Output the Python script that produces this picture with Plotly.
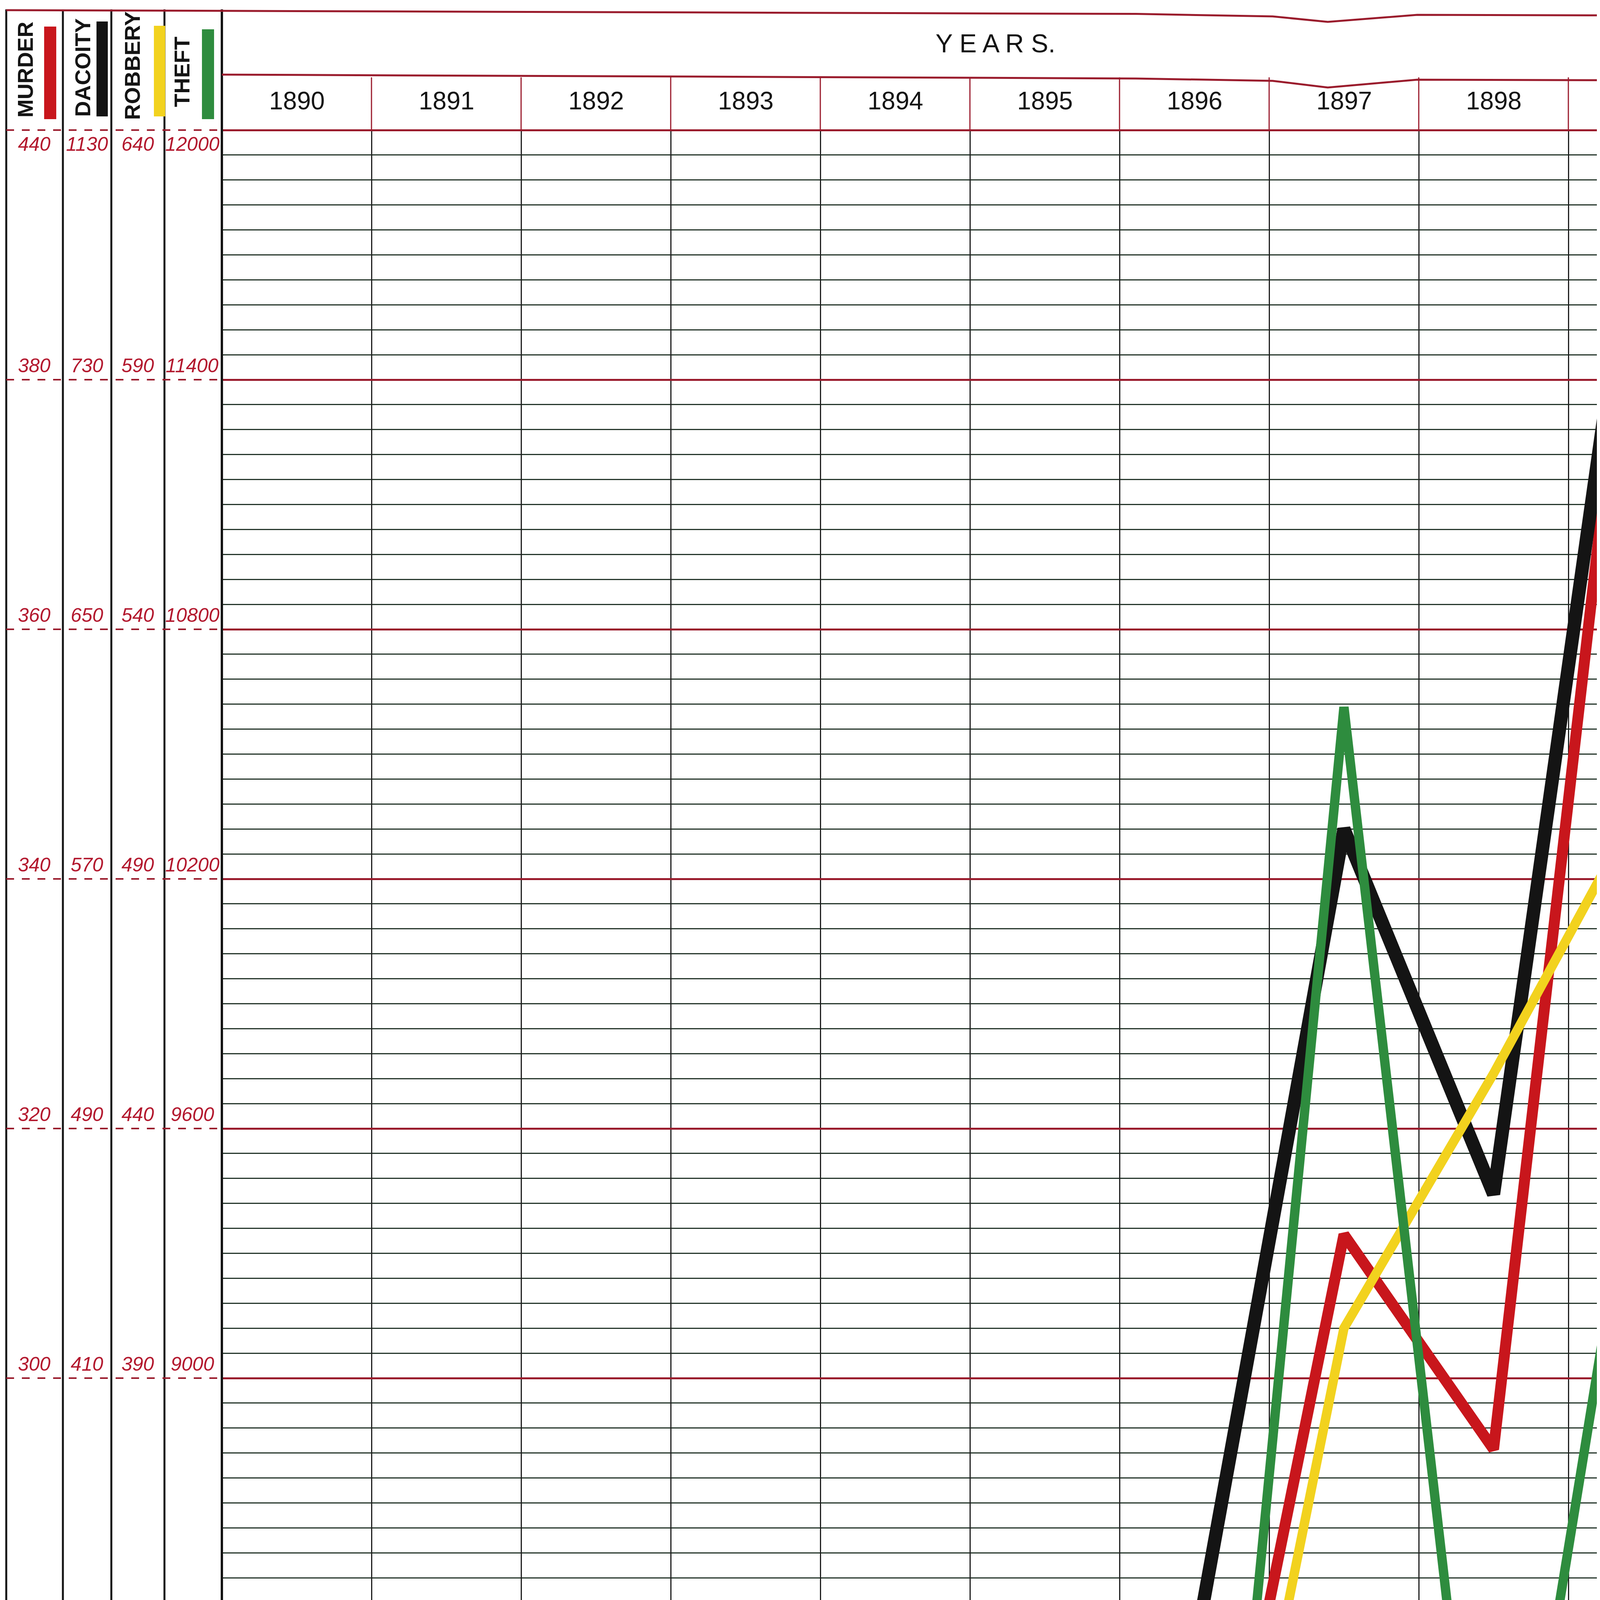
import plotly.graph_objects as go

# ---------------- data ----------------
years = [1890, 1891, 1892, 1893, 1894, 1895, 1896, 1897, 1898, 1899]

murder  = [236.6, 243.0, 229.1, 241.2, 252.6, 235.2, 252.4, 311.5, 294.3, 398.2]
dacoity = [99, 100, 121, 124, 128, 137, 322, 586, 469, 807]
robbery = [278, 241, 213, 219, 211, 202, 252, 400, 451, 506]
theft   = [7706, 7490, 7150, 6800, 6710, 6760, 6917, 10613, 7490, 9690]

# scale values at the ten ruled (red) lines, top to bottom
murder_levels  = [400, 380, 360, 340, 320, 300, 280, 260, 240, 220]
dacoity_levels = [810, 730, 650, 570, 490, 410, 330, 250, 170, 90]
robbery_levels = [640, 590, 540, 490, 440, 390, 340, 290, 240, 190]
theft_levels   = [12000, 11400, 10800, 10200, 9600, 9000, 8400, 7800, 7200, 6600]

# labels as printed on the chart
murder_labels  = ["440", "380", "360", "340", "320", "300", "280", "250", "240", "220"]
dacoity_labels = ["1130", "730", "650", "570", "490", "410", "330", "250", "170", "90"]
robbery_labels = ["640", "590", "540", "490", "440", "390", "340", "290", "240", "190"]
theft_labels   = ["12000", "11400", "10800", "10200", "9600", "9000", "8400", "7800", "7200", "6600"]

series_names = ["MURDER", "DACOITY", "ROBBERY", "THEFT"]
header_title = "Y E A R S."

# ---------------- layout geometry (pixels) ----------------
W, H = 4372, 6053
GRID_TOP = 325      # pixel of the top ruled line
MAJOR = 639         # pixels between ruled lines
X0 = 560            # left edge of plot (1889.5)
COL = 383           # width of one year column
DOM_TOP = 323

def px(x):
    return x / W

def py(y):
    return 1 - y / H

RED = "#c8161c"
BLACK = "#141414"
YELLOW = "#f2d21e"
GREEN = "#2e8c3e"
RULE_RED = "#9a1b2c"
MINOR = "#25362b"
LABEL_RED = "#b3182e"
FONT = "Liberation Sans, Arial, sans-serif"

def yrange(levels):
    top = levels[0]
    step = levels[0] - levels[1]
    v_bottom = top - (H - GRID_TOP) / MAJOR * step
    v_top = top - (DOM_TOP - GRID_TOP) / MAJOR * step
    return [v_bottom, v_top]

fig = go.Figure()

series = [
    (robbery, "y3", YELLOW, 24),
    (theft, "y4", GREEN, 24),
    (murder, "y", RED, 28),
    (dacoity, "y2", BLACK, 34),
]
for vals, ax, col, wdt in series:
    fig.add_trace(go.Scatter(x=years, y=vals, yaxis=ax, mode="lines",
                             line=dict(color=col, width=wdt),
                             showlegend=False, hoverinfo="skip"))

dom = [0, py(DOM_TOP)]
x_range = [years[0] - 0.5, years[0] - 0.5 + (W - X0) / COL]
bounds = [y - 0.5 for y in years] + [years[-1] + 0.5]
mstep = murder_levels[0] - murder_levels[1]

fig.update_layout(
    width=W, height=H, autosize=False,
    margin=dict(l=0, r=0, t=0, b=0, pad=0),
    paper_bgcolor="white", plot_bgcolor="white",
    xaxis=dict(domain=[px(X0), 1], range=x_range, tickvals=bounds,
               showticklabels=False, ticks="", showgrid=True,
               gridcolor="#1e1e1e", gridwidth=3, zeroline=False, showline=False),
    yaxis=dict(domain=dom, range=yrange(murder_levels),
               tick0=murder_levels[-1], dtick=mstep,
               showticklabels=False, ticks="", showgrid=True,
               gridcolor=RULE_RED, gridwidth=5, zeroline=False, showline=False,
               minor=dict(dtick=mstep / 10, showgrid=True, gridcolor=MINOR, gridwidth=3)),
    yaxis2=dict(domain=dom, range=yrange(dacoity_levels), overlaying="y",
                visible=False, showgrid=False),
    yaxis3=dict(domain=dom, range=yrange(robbery_levels), overlaying="y",
                visible=False, showgrid=False),
    yaxis4=dict(domain=dom, range=yrange(theft_levels), overlaying="y",
                visible=False, showgrid=False),
)

shapes = []
annotations = []

# legend column separators
col_lines = [8, 153, 277, 413]
for xl in col_lines:
    shapes.append(dict(type="line", xref="paper", yref="paper",
                       x0=px(xl), x1=px(xl), y0=py(16), y1=0,
                       line=dict(color=BLACK, width=5)))
# plot left border
shapes.append(dict(type="line", xref="paper", yref="paper",
                   x0=px(X0), x1=px(X0), y0=py(16), y1=0,
                   line=dict(color=BLACK, width=6)))

# ruled lines through the label columns
for lv in murder_levels:
    shapes.append(dict(type="line", xref="paper", yref="y",
                       x0=px(col_lines[0]), x1=px(X0), y0=lv, y1=lv,
                       line=dict(color=RULE_RED, width=4, dash="longdash")))

# header lines with the paper-fold dip near 1897
def dip_path(x_start, y_left, y_right, y_dip, x_dip=3391):
    pts = [(x_start, y_left), (2900, y_left + (y_right - y_left) * 0.3 + 6),
           (3250, y_left + 16), (x_dip, y_dip), (3620, y_right), (W, y_right + 2)]
    return "M " + " L ".join(f"{px(a):.5f},{py(b):.5f}" for a, b in pts)

shapes.append(dict(type="path", xref="paper", yref="paper",
                   path=dip_path(col_lines[0], 18, 30, 48),
                   line=dict(color=RULE_RED, width=5)))
shapes.append(dict(type="path", xref="paper", yref="paper",
                   path=dip_path(X0, 183, 196, 216),
                   line=dict(color=RULE_RED, width=5)))

# red year separators in the header band
for b in bounds[1:-1]:
    shapes.append(dict(type="line", xref="x", yref="paper",
                       x0=b, x1=b, y0=py(190), y1=py(DOM_TOP),
                       line=dict(color=RULE_RED, width=3)))

# colour swatches in legend
swatches = [
    (105, 136, 60, 297, RED),
    (239, 268, 47, 290, BLACK),
    (386, 415, 58, 290, YELLOW),
    (509, 540, 67, 297, GREEN),
]
for x0s, x1s, y0s, y1s, c in swatches:
    shapes.append(dict(type="rect", xref="paper", yref="paper",
                       x0=px(x0s), x1=px(x1s), y0=py(y1s), y1=py(y0s),
                       fillcolor=c, line=dict(width=0)))

# legend words
word_x = [56, 203, 330, 457]
word_yc = [170, 165, 160, 176]
for name, xc, yc in zip(series_names, word_x, word_yc):
    annotations.append(dict(text=name, x=px(xc), y=py(yc), xref="paper", yref="paper",
                            textangle=-90, showarrow=False, xanchor="center", yanchor="middle",
                            font=dict(family=FONT, size=56, color=BLACK, weight="bold")))

# scale labels
col_centers = [80, 215, 345, 484]
label_sets = [(murder_labels, murder_levels, "y"), (dacoity_labels, dacoity_levels, "y2"),
              (robbery_labels, robbery_levels, "y3"), (theft_labels, theft_levels, "y4")]
for (labels, levels, yr), xc in zip(label_sets, col_centers):
    for i, (t, lv) in enumerate(zip(labels, levels)):
        top = (i == 0)
        annotations.append(dict(text=t, x=px(xc), y=lv, xref="paper", yref=yr,
                                showarrow=False, xanchor="center",
                                yanchor="top" if top else "bottom",
                                yshift=-6 if top else 6,
                                font=dict(family=FONT, size=50, color=LABEL_RED,
                                          style="italic")))

# year labels
for yv in years:
    annotations.append(dict(text=str(yv), x=yv, y=py(250), xref="x", yref="paper",
                            showarrow=False, xanchor="center", yanchor="middle",
                            font=dict(family=FONT, size=64, color=BLACK)))

annotations.append(dict(text=header_title, x=px(2540), y=py(103), xref="paper", yref="paper",
                        showarrow=False, xanchor="center", yanchor="middle",
                        font=dict(family=FONT, size=66, color=BLACK)))

fig.update_layout(shapes=shapes, annotations=annotations)
fig.write_html("out.html")
